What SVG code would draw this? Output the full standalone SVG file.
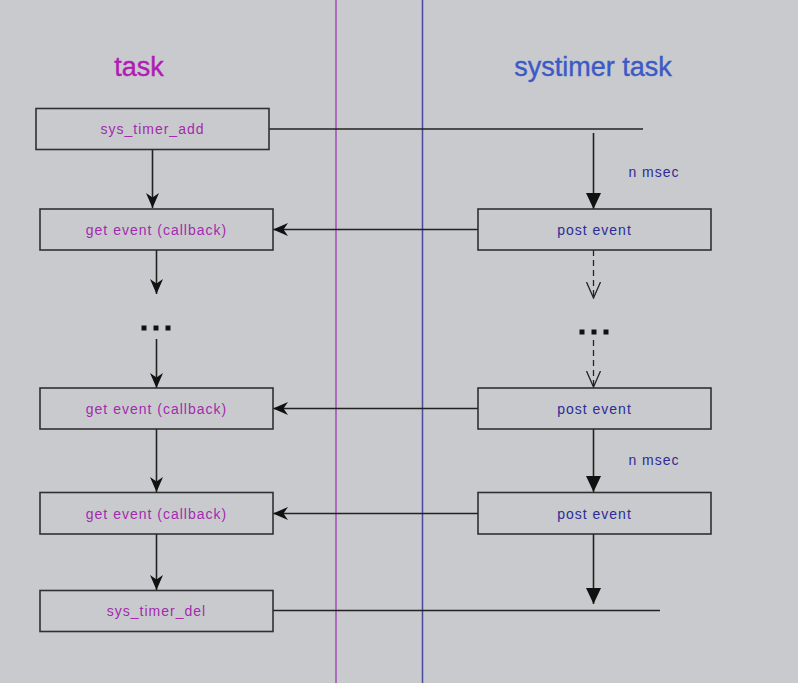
<svg xmlns="http://www.w3.org/2000/svg" width="798" height="683" viewBox="0 0 798 683">
<style>
.box{fill:none;stroke:#303030;stroke-width:1.6}
.ln{fill:none;stroke:#222;stroke-width:1.6}
.dash{fill:none;stroke:#222;stroke-width:1.3;stroke-dasharray:6,4}
.tl{font-family:"Liberation Sans",Arial,sans-serif;font-size:14px;letter-spacing:1px;text-anchor:middle}
.mag{fill:#a32aae}
.blu{fill:#2c2c96}
.title{font-family:"Liberation Sans",Arial,sans-serif;font-size:27px;text-anchor:middle;stroke-width:0.4}
.dot{fill:#111}
</style>
<defs>
<marker id="stealth" viewBox="0 0 15 13" refX="15" refY="6.5" markerWidth="15" markerHeight="13" markerUnits="userSpaceOnUse" orient="auto">
<path d="M0,0 L15,6.5 L0,13 L4.5,6.5 z" fill="#111"/>
</marker>
<marker id="tri" viewBox="0 0 16 15" refX="16" refY="7.5" markerWidth="16" markerHeight="15" markerUnits="userSpaceOnUse" orient="auto">
<path d="M0,0 L16,7.5 L0,15 z" fill="#111"/>
</marker>
<marker id="open" viewBox="0 0 17 16" refX="16" refY="8" markerWidth="17" markerHeight="16" markerUnits="userSpaceOnUse" orient="auto">
<path d="M0,1 L16,8 L0,15" fill="none" stroke="#222" stroke-width="1.3"/>
</marker>
</defs>
<rect x="0" y="0" width="798" height="683" fill="#c9cacd"/>
<line x1="336" y1="0" x2="336" y2="683" stroke="#a04cb4" stroke-width="1.5"/>
<line x1="422.5" y1="0" x2="422.5" y2="683" stroke="#4a4aa0" stroke-width="1.5"/>
<text class="title" x="139" y="76" fill="#b01cb4" stroke="#b01cb4">task</text>
<text class="title" x="593" y="76" fill="#3c5ac6" stroke="#3c5ac6">systimer task</text>

<g id="connectors">
<line class="ln" x1="269" y1="129" x2="643" y2="129"/>
<line class="ln" x1="593.5" y1="133" x2="593.5" y2="209" marker-end="url(#tri)"/>
<line class="ln" x1="152.5" y1="149" x2="152.5" y2="208" marker-end="url(#stealth)"/>
<line class="ln" x1="478" y1="229.5" x2="273" y2="229.5" marker-end="url(#stealth)"/>
<line class="ln" x1="156.5" y1="250" x2="156.5" y2="294" marker-end="url(#stealth)"/>
<line class="ln" x1="156.5" y1="339" x2="156.5" y2="388" marker-end="url(#stealth)"/>
<line class="dash" x1="593.5" y1="250" x2="593.5" y2="298" marker-end="url(#open)"/>
<line class="dash" x1="593.5" y1="340" x2="593.5" y2="387" marker-end="url(#open)"/>
<line class="ln" x1="478" y1="408.5" x2="273" y2="408.5" marker-end="url(#stealth)"/>
<line class="ln" x1="156.5" y1="429" x2="156.5" y2="492" marker-end="url(#stealth)"/>
<line class="ln" x1="593.5" y1="429" x2="593.5" y2="492" marker-end="url(#tri)"/>
<line class="ln" x1="478" y1="513.5" x2="273" y2="513.5" marker-end="url(#stealth)"/>
<line class="ln" x1="156.5" y1="534" x2="156.5" y2="590" marker-end="url(#stealth)"/>
<line class="ln" x1="593.5" y1="534" x2="593.5" y2="604" marker-end="url(#tri)"/>
<line class="ln" x1="273" y1="610.5" x2="660" y2="610.5"/>
<text class="tl blu" x="654" y="177">n msec</text>
<text class="tl blu" x="654" y="465">n msec</text>
</g>

<g id="dots-left">
<rect class="dot" x="141.5" y="325.5" width="5" height="5"/>
<rect class="dot" x="153.5" y="325.5" width="5" height="5"/>
<rect class="dot" x="165.5" y="325.5" width="5" height="5"/>
</g>
<g id="dots-right">
<rect class="dot" x="579.5" y="329.5" width="5" height="5"/>
<rect class="dot" x="591.5" y="329.5" width="5" height="5"/>
<rect class="dot" x="603.5" y="329.5" width="5" height="5"/>
</g>

<g id="sys_timer_add">
<rect class="box" x="36" y="108.5" width="233" height="41"/>
<text class="tl mag" x="152.5" y="134">sys_timer_add</text>
</g>
<g id="get_event_1">
<rect class="box" x="40" y="209" width="233" height="41"/>
<text class="tl mag" x="156.5" y="234.5">get event (callback)</text>
</g>
<g id="post_event_1">
<rect class="box" x="478" y="209" width="233" height="41"/>
<text class="tl blu" x="594.5" y="234.5">post event</text>
</g>
<g id="get_event_2">
<rect class="box" x="40" y="388" width="233" height="41"/>
<text class="tl mag" x="156.5" y="413.5">get event (callback)</text>
</g>
<g id="post_event_2">
<rect class="box" x="478" y="388" width="233" height="41"/>
<text class="tl blu" x="594.5" y="413.5">post event</text>
</g>
<g id="get_event_3">
<rect class="box" x="40" y="492.5" width="233" height="41.5"/>
<text class="tl mag" x="156.5" y="518.5">get event (callback)</text>
</g>
<g id="post_event_3">
<rect class="box" x="478" y="492.5" width="233" height="41.5"/>
<text class="tl blu" x="594.5" y="518.5">post event</text>
</g>
<g id="sys_timer_del">
<rect class="box" x="40" y="590.5" width="233" height="41"/>
<text class="tl mag" x="156.5" y="616">sys_timer_del</text>
</g>
</svg>
